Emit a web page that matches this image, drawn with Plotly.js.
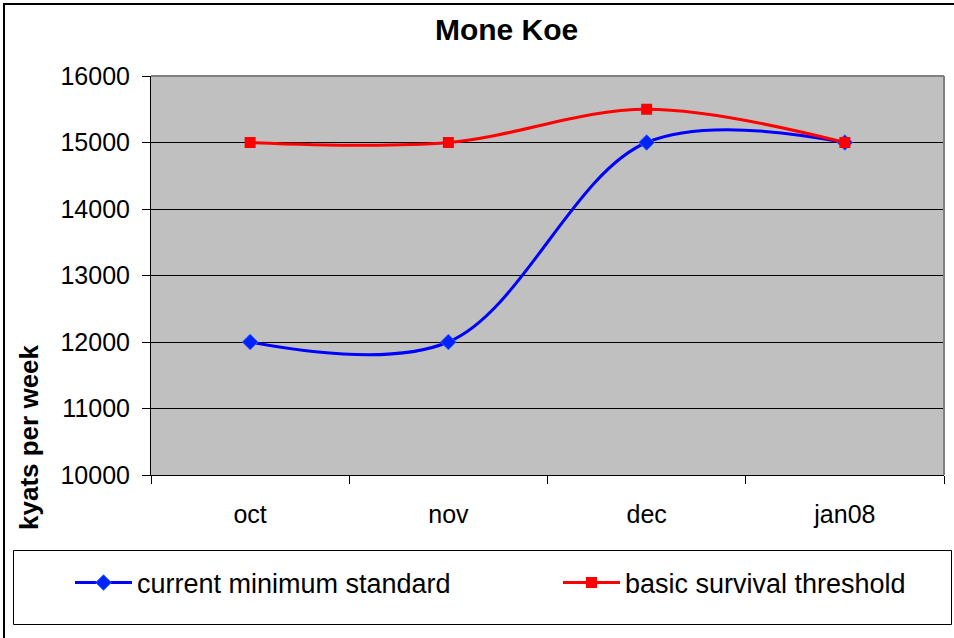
<!DOCTYPE html>
<html>
<head>
<meta charset="utf-8">
<script src="https://cdn.plot.ly/plotly-3.0.1.min.js"></script>
<style>html,body{margin:0;padding:0;background:#fff;}#chart{width:954px;height:638px;}</style>
</head>
<body>
<div id="chart"></div>
<script>
var categories = ["oct", "nov", "dec", "jan08"];
var currentMinimum = [12000, 12000, 15000, 15000];
var survivalThreshold = [15000, 15000, 15500, 15000];
var yTicks = [10000, 11000, 12000, 13000, 14000, 15000, 16000];

var W = 954, H = 638;
var L = 151, R = 10, T = 76, B = 163;
var pw = W - L - R, ph = H - T - B;
function px(x) { return (x - L) / pw; }
function py(y) { return (H - B - y) / ph; }

var FONT = "Liberation Sans, Arial, sans-serif";

var traces = [
  {
    x: categories, y: currentMinimum, name: "current minimum standard",
    type: "scatter", mode: "lines+markers", legend: "legend",
    line: {color: "#0000FF", width: 3, shape: "spline", smoothing: 1},
    marker: {symbol: "diamond", size: 12, color: "#0022FF", line: {color: "#3366FF", width: 1}}
  },
  {
    x: categories, y: survivalThreshold, name: "basic survival threshold",
    type: "scatter", mode: "lines+markers", legend: "legend2",
    line: {color: "#FF0000", width: 3, shape: "spline", smoothing: 1},
    marker: {symbol: "square", size: 11, color: "#FF0000"}
  }
];

var legendCommon = {
  orientation: "h", xanchor: "left", yanchor: "middle",
  bgcolor: "rgba(0,0,0,0)", borderwidth: 0, itemwidth: 57,
  font: {size: 27, color: "#000", family: FONT}
};

var layout = {
  width: W, height: H,
  margin: {l: L, r: R, t: T, b: B, pad: 0},
  paper_bgcolor: "#FFFFFF",
  plot_bgcolor: "#C0C0C0",
  font: {family: FONT, size: 25, color: "#000"},
  title: {text: "<b>Mone Koe</b>", x: 0.531, xanchor: "center", y: 0.953, yanchor: "middle",
          font: {size: 30, family: FONT, color: "#000"}},
  showlegend: true,
  legend: Object.assign({}, legendCommon, {x: px(70), y: py(583)}),
  legend2: Object.assign({}, legendCommon, {x: px(558), y: py(583)}),
  xaxis: {
    type: "category", range: [-0.5, 3.5],
    showline: true, linecolor: "#000", linewidth: 1,
    ticks: "outside", ticklen: 8, tickcolor: "#000", tickwidth: 1,
    tickson: "boundaries", showgrid: false, zeroline: false,
    tickfont: {size: 25, color: "#000", family: FONT}, ticklabelstandoff: 17, fixedrange: true
  },
  yaxis: {
    range: [10000, 16000], tickvals: yTicks, tickformat: "d",
    showline: true, linecolor: "#000", linewidth: 1,
    ticks: "outside", ticklen: 8, tickcolor: "#000", tickwidth: 1,
    showgrid: true, gridcolor: "#000", gridwidth: 1, zeroline: false,
    tickfont: {size: 25, color: "#000", family: FONT}, ticklabelstandoff: 7, fixedrange: true
  },
  shapes: [
    {type: "rect", xref: "paper", yref: "paper", x0: px(4), x1: px(962), y0: py(648), y1: py(4),
     line: {color: "#000", width: 2}, fillcolor: "rgba(0,0,0,0)", layer: "below"},
    {type: "rect", xref: "paper", yref: "paper", x0: px(13.5), x1: px(951.5), y0: py(624.5), y1: py(550.5),
     line: {color: "#000", width: 1}, fillcolor: "rgba(0,0,0,0)", layer: "below"},
    {type: "line", xref: "paper", yref: "paper", x0: 0, x1: 1, y0: 1, y1: 1,
     line: {color: "#808080", width: 2}, layer: "above"},
    {type: "line", xref: "paper", yref: "paper", x0: 1, x1: 1, y0: 0, y1: 1,
     line: {color: "#808080", width: 2}, layer: "above"}
  ],
  annotations: [
    {text: "<b>kyats per week</b>", textangle: -90, xref: "paper", yref: "paper",
     x: px(29), y: py(437), xanchor: "center", yanchor: "middle", showarrow: false,
     font: {size: 26, color: "#000", family: FONT}}
  ]
};

Plotly.newPlot("chart", traces, layout, {displayModeBar: false, staticPlot: true});
</script>
</body>
</html>
